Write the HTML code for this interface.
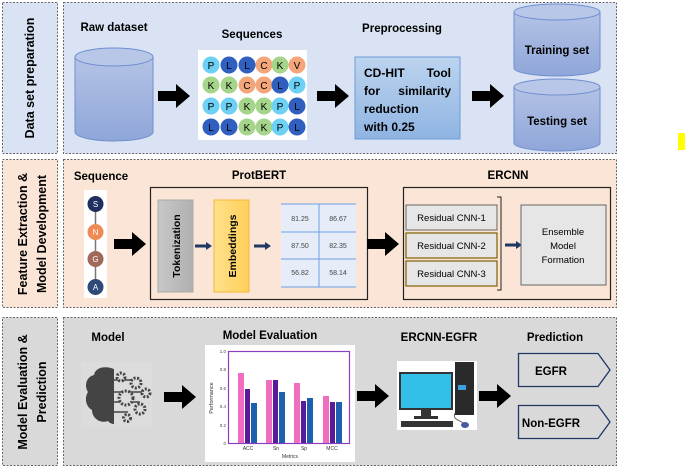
<!DOCTYPE html>
<html><head><meta charset="utf-8"><style>
body{margin:0;background:#fff;width:685px;height:469px;overflow:hidden}
svg text{font-family:"Liberation Sans",sans-serif}
</style></head><body>
<svg width="685" height="469" viewBox="0 0 685 469" xmlns="http://www.w3.org/2000/svg">
<defs>
<linearGradient id="cyl" x1="0" y1="0" x2="0" y2="1"><stop offset="0" stop-color="#b4c3e6"/><stop offset="1" stop-color="#8fa6d9"/></linearGradient>
<linearGradient id="pp" x1="0" y1="0" x2="0" y2="1"><stop offset="0" stop-color="#bcd4ef"/><stop offset="1" stop-color="#8fb4e2"/></linearGradient>
<linearGradient id="tok" x1="0" y1="0" x2="1" y2="0"><stop offset="0" stop-color="#c8c8c8"/><stop offset="1" stop-color="#b0b0b0"/></linearGradient>
<linearGradient id="emb" x1="0" y1="0" x2="1" y2="0"><stop offset="0" stop-color="#ffe08a"/><stop offset="1" stop-color="#ffcf5a"/></linearGradient>
<g id="arr"><polygon points="0,7 18,7 18,0 32,12 18,24 18,17 0,17" fill="#000"/></g>
<g id="sarr"><polygon points="0,2.5 11,2.5 11,0 17,4 11,8 11,5.5 0,5.5" fill="#1f3864"/></g>
</defs>
<!-- Row 1 -->
<rect x="2.5" y="2.5" width="55" height="151" fill="#dae3f3" stroke="#666" stroke-dasharray="2,1.5"/>
<rect x="63.5" y="2.5" width="553" height="151" fill="#dae3f3" stroke="#666" stroke-dasharray="2,1.5"/>
<text transform="translate(34,78) rotate(-90)" text-anchor="middle" font-size="12.5" font-weight="bold">Data set preparation</text>
<text x="114" y="31" text-anchor="middle" font-size="11.5" font-weight="bold">Raw dataset</text>
<path d="M75,57 V132 A39,9 0 0 0 153,132 V57" fill="url(#cyl)" stroke="#6f8fd0"/>
<ellipse cx="114" cy="57" rx="39" ry="9" fill="#b8c7e8" stroke="#6f8fd0"/>
<use href="#arr" x="158" y="84"/>
<text x="252" y="38" text-anchor="middle" font-size="11.5" font-weight="bold">Sequences</text>
<rect x="198" y="50" width="109" height="90" fill="#fff"/>
<g font-size="10" text-anchor="middle">
<!-- row1 -->
<circle cx="211" cy="65" r="8.5" fill="#6dd0f5"/><text x="211" y="69">P</text>
<circle cx="229" cy="65" r="8.5" fill="#2f5fbf"/><text x="229" y="69">L</text>
<circle cx="247" cy="65" r="8.5" fill="#2f5fbf"/><text x="247" y="69">L</text>
<circle cx="264" cy="65" r="8.5" fill="#f4a57a"/><text x="264" y="69">C</text>
<circle cx="280" cy="65" r="8.5" fill="#a5d58a"/><text x="280" y="69">K</text>
<circle cx="297" cy="65" r="8.5" fill="#f4a57a"/><text x="297" y="69">V</text>
<!-- row2 -->
<circle cx="211" cy="85" r="8.5" fill="#a5d58a"/><text x="211" y="89">K</text>
<circle cx="229" cy="85" r="8.5" fill="#a5d58a"/><text x="229" y="89">K</text>
<circle cx="247" cy="85" r="8.5" fill="#f4a57a"/><text x="247" y="89">C</text>
<circle cx="264" cy="85" r="8.5" fill="#f4a57a"/><text x="264" y="89">C</text>
<circle cx="280" cy="85" r="8.5" fill="#2f5fbf"/><text x="280" y="89">L</text>
<circle cx="297" cy="85" r="8.5" fill="#6dd0f5"/><text x="297" y="89">P</text>
<!-- row3 -->
<circle cx="211" cy="106" r="8.5" fill="#6dd0f5"/><text x="211" y="110">P</text>
<circle cx="229" cy="106" r="8.5" fill="#6dd0f5"/><text x="229" y="110">P</text>
<circle cx="247" cy="106" r="8.5" fill="#a5d58a"/><text x="247" y="110">K</text>
<circle cx="264" cy="106" r="8.5" fill="#a5d58a"/><text x="264" y="110">K</text>
<circle cx="280" cy="106" r="8.5" fill="#6dd0f5"/><text x="280" y="110">P</text>
<circle cx="297" cy="106" r="8.5" fill="#2f5fbf"/><text x="297" y="110">L</text>
<!-- row4 -->
<circle cx="211" cy="127" r="8.5" fill="#2f5fbf"/><text x="211" y="131">L</text>
<circle cx="229" cy="127" r="8.5" fill="#2f5fbf"/><text x="229" y="131">L</text>
<circle cx="247" cy="127" r="8.5" fill="#a5d58a"/><text x="247" y="131">K</text>
<circle cx="264" cy="127" r="8.5" fill="#a5d58a"/><text x="264" y="131">K</text>
<circle cx="280" cy="127" r="8.5" fill="#6dd0f5"/><text x="280" y="131">P</text>
<circle cx="297" cy="127" r="8.5" fill="#2f5fbf"/><text x="297" y="131">L</text>
</g>
<use href="#arr" x="317" y="84"/>
<text x="402" y="32" text-anchor="middle" font-size="11.5" font-weight="bold">Preprocessing</text>
<rect x="355" y="57" width="105" height="82" fill="url(#pp)" stroke="#6f9bd6"/>
<g font-size="12" font-weight="bold">
<text x="364" y="77">CD-HIT</text><text x="451" y="77" text-anchor="end">Tool</text>
<text x="364" y="95">for</text><text x="451" y="95" text-anchor="end">similarity</text>
<text x="364" y="113">reduction</text>
<text x="364" y="131">with 0.25</text>
</g>
<use href="#arr" x="472" y="84"/>
<path d="M514,12 V68 A43,8 0 0 0 600,68 V12" fill="url(#cyl)" stroke="#6f8fd0"/>
<ellipse cx="557" cy="12" rx="43" ry="8" fill="#b8c7e8" stroke="#6f8fd0"/>
<text x="557" y="54" text-anchor="middle" font-size="11.5" font-weight="bold">Training set</text>
<path d="M514,87 V143 A43,8 0 0 0 600,143 V87" fill="url(#cyl)" stroke="#6f8fd0"/>
<ellipse cx="557" cy="87" rx="43" ry="8" fill="#b8c7e8" stroke="#6f8fd0"/>
<text x="557" y="125" text-anchor="middle" font-size="11.5" font-weight="bold">Testing set</text>
<rect x="678" y="133" width="7" height="17" fill="#ffff00"/>

<!-- Row 2 -->
<rect x="2.5" y="159.5" width="55" height="148" fill="#fbe5d6" stroke="#666" stroke-dasharray="2,1.5"/>
<rect x="63.5" y="159.5" width="553" height="148" fill="#fbe5d6" stroke="#666" stroke-dasharray="2,1.5"/>
<text transform="translate(27,234) rotate(-90)" text-anchor="middle" font-size="12.5" font-weight="bold">Feature Extraction &amp;</text>
<text transform="translate(46,234) rotate(-90)" text-anchor="middle" font-size="12.5" font-weight="bold">Model Development</text>
<text x="101" y="180" text-anchor="middle" font-size="11.5" font-weight="bold">Sequence</text>
<rect x="84" y="190" width="23" height="108" fill="#fff"/>
<line x1="95.5" y1="204" x2="95.5" y2="287" stroke="#777" stroke-width="1.5"/>
<g font-size="8" text-anchor="middle" fill="#fff">
<circle cx="95.5" cy="204" r="8" fill="#1f3060"/><text x="95.5" y="207">S</text>
<circle cx="95.5" cy="232" r="8" fill="#f08a55"/><text x="95.5" y="235">N</text>
<circle cx="95.5" cy="259" r="8" fill="#a0675a"/><text x="95.5" y="262">G</text>
<circle cx="95.5" cy="287" r="8" fill="#2e4a78"/><text x="95.5" y="290">A</text>
</g>
<use href="#arr" x="114" y="232"/>
<text x="259" y="179" text-anchor="middle" font-size="11.5" font-weight="bold">ProtBERT</text>
<rect x="150.5" y="187.5" width="217" height="112" fill="none" stroke="#222" stroke-width="1.2"/>
<rect x="158" y="200" width="35" height="92" fill="url(#tok)" stroke="#aaa"/>
<text transform="translate(180,246) rotate(-90)" text-anchor="middle" font-size="10.5" font-weight="bold">Tokenization</text>
<use href="#sarr" x="195" y="242"/>
<rect x="214" y="200" width="35" height="92" fill="url(#emb)" stroke="#f3b938"/>
<text transform="translate(236,246) rotate(-90)" text-anchor="middle" font-size="10.5" font-weight="bold">Embeddings</text>
<use href="#sarr" x="254" y="242"/>
<rect x="281" y="204" width="75" height="83" fill="#e6edf8"/>
<g stroke="#6f9fe6" stroke-width="1"><line x1="281" y1="204" x2="356" y2="204"/><line x1="281" y1="232" x2="356" y2="232"/><line x1="281" y1="259" x2="356" y2="259"/><line x1="281" y1="287" x2="356" y2="287"/><line x1="319" y1="204" x2="319" y2="287"/></g>
<g font-size="7" text-anchor="middle" fill="#444">
<text x="300" y="221">81.25</text><text x="338" y="221">86.67</text>
<text x="300" y="248">87.50</text><text x="338" y="248">82.35</text>
<text x="300" y="275">56.82</text><text x="338" y="275">58.14</text>
</g>
<use href="#arr" x="367" y="232"/>
<text x="508" y="179" text-anchor="middle" font-size="11.5" font-weight="bold">ERCNN</text>
<rect x="403.5" y="187.5" width="207" height="112" fill="none" stroke="#222" stroke-width="1.2"/>
<rect x="406" y="205" width="91" height="25" fill="#e6e6e6" stroke="#666"/>
<text x="451.5" y="221" text-anchor="middle" font-size="9.5">Residual CNN-1</text>
<rect x="406" y="233" width="91" height="25" fill="#e6e6e6" stroke="#7f6000" stroke-width="1.2"/>
<text x="451.5" y="249" text-anchor="middle" font-size="9.5">Residual CNN-2</text>
<rect x="406" y="261" width="91" height="25" fill="#e6e6e6" stroke="#7f6000" stroke-width="1.2"/>
<text x="451.5" y="277" text-anchor="middle" font-size="9.5">Residual CNN-3</text>
<path d="M497,197 H501 V290 H497" fill="none" stroke="#222"/>
<use href="#sarr" x="505" y="241"/>
<rect x="521" y="205" width="85" height="80" fill="#e6e6e6" stroke="#666"/>
<g font-size="9.5" text-anchor="middle"><text x="563" y="235">Ensemble</text><text x="563" y="249">Model</text><text x="563" y="263">Formation</text></g>

<!-- Row 3 -->
<rect x="2.5" y="317.5" width="55" height="148" fill="#d9d9d9" stroke="#666" stroke-dasharray="2,1.5"/>
<rect x="63.5" y="317.5" width="553" height="148" fill="#d9d9d9" stroke="#666" stroke-dasharray="2,1.5"/>
<text transform="translate(27,392) rotate(-90)" text-anchor="middle" font-size="12.5" font-weight="bold">Model Evaluation &amp;</text>
<text transform="translate(46,392) rotate(-90)" text-anchor="middle" font-size="12.5" font-weight="bold">Prediction</text>
<text x="108" y="341" text-anchor="middle" font-size="11.5" font-weight="bold">Model</text>
<!-- brain icon -->
<rect x="81" y="362" width="71" height="66" fill="#dcdcdc"/>
<path d="M114,369 C104,365 95,368 94,375 C86,377 84,386 88,392 C84,398 86,407 92,410 C92,418 100,424 108,421 C110,424 114,424 114,424 Z" fill="#444"/>
<g fill="none" stroke="#444" stroke-width="1.5"><line x1="114" y1="380" x2="140" y2="380"/><line x1="114" y1="392" x2="145" y2="392"/><line x1="114" y1="402" x2="140" y2="402"/><line x1="114" y1="412" x2="128" y2="412"/></g>
<g fill="#dcdcdc" stroke="#444" stroke-width="3" stroke-dasharray="2,1.5">
<circle cx="121" cy="377" r="4"/><circle cx="136" cy="383" r="5"/><circle cx="126" cy="398" r="7"/><circle cx="146" cy="393" r="4"/><circle cx="140" cy="409" r="5"/><circle cx="127" cy="418" r="3.5"/>
</g>
<use href="#arr" x="164" y="385"/>
<text x="270" y="339" text-anchor="middle" font-size="11.5" font-weight="bold">Model Evaluation</text>
<rect x="205" y="345" width="150" height="117" fill="#fff"/>
<rect x="228.5" y="351.5" width="121" height="92" fill="none" stroke="#8a3fc0" stroke-width="1.2"/>
<g font-size="4.5" fill="#444" text-anchor="end"><text x="226" y="353">1.0</text><text x="226" y="371">0.8</text><text x="226" y="390">0.6</text><text x="226" y="408">0.4</text><text x="226" y="427">0.2</text><text x="226" y="445">0</text></g>
<text transform="translate(213,398) rotate(-90)" text-anchor="middle" font-size="5.5" fill="#333">Performance</text>
<g>
<rect x="238" y="373" width="6" height="70" fill="#f06ec0"/><rect x="245" y="389" width="5" height="54" fill="#5a1a9a"/><rect x="251" y="403" width="6" height="40" fill="#1f5fb0"/>
<rect x="266" y="380" width="6" height="63" fill="#f06ec0"/><rect x="273" y="380" width="5" height="63" fill="#5a1a9a"/><rect x="279" y="392" width="6" height="51" fill="#1f5fb0"/>
<rect x="294" y="383" width="6" height="60" fill="#f06ec0"/><rect x="301" y="401" width="5" height="42" fill="#5a1a9a"/><rect x="307" y="398" width="6" height="45" fill="#1f5fb0"/>
<rect x="323" y="396" width="6" height="47" fill="#f06ec0"/><rect x="330" y="402" width="5" height="41" fill="#5a1a9a"/><rect x="336" y="402" width="6" height="41" fill="#1f5fb0"/>
</g>
<g font-size="5" fill="#333" text-anchor="middle"><text x="248" y="450">ACC</text><text x="276" y="450">Sn</text><text x="304" y="450">Sp</text><text x="332" y="450">MCC</text><text x="290" y="458">Metrics</text></g>
<use href="#arr" x="357" y="384"/>
<text x="439" y="341" text-anchor="middle" font-size="11.5" font-weight="bold">ERCNN-EGFR</text>
<rect x="397" y="361" width="80" height="69" fill="#fff"/>
<rect x="399" y="372" width="54" height="38" fill="#333"/><rect x="401" y="374" width="50" height="34" fill="#33c0e8"/>
<rect x="421" y="410" width="10" height="7" fill="#333"/><rect x="414" y="416" width="24" height="3" fill="#333"/>
<rect x="455" y="362" width="19" height="53" fill="#2a2a2a"/><rect x="458" y="385" width="8" height="5" fill="#3aa0e0"/>
<rect x="401" y="421" width="52" height="6" fill="#333"/><ellipse cx="465" cy="425" rx="4" ry="3" fill="#4a5aa0"/>
<path d="M455,413 C452,420 460,420 463,423" fill="none" stroke="#666"/>
<use href="#arr" x="479" y="384"/>
<text x="555" y="341" text-anchor="middle" font-size="11.5" font-weight="bold">Prediction</text>
<polygon points="518.5,353.5 598,353.5 610,370 598,386.5 518.5,386.5" fill="none" stroke="#1f3864" stroke-width="1.3"/>
<text x="551" y="375" text-anchor="middle" font-size="11.5" font-weight="bold">EGFR</text>
<polygon points="518.5,405.5 598,405.5 610,422 598,438.5 518.5,438.5" fill="none" stroke="#1f3864" stroke-width="1.3"/>
<text x="551" y="427" text-anchor="middle" font-size="11.5" font-weight="bold">Non-EGFR</text>
</svg>
</body></html>
